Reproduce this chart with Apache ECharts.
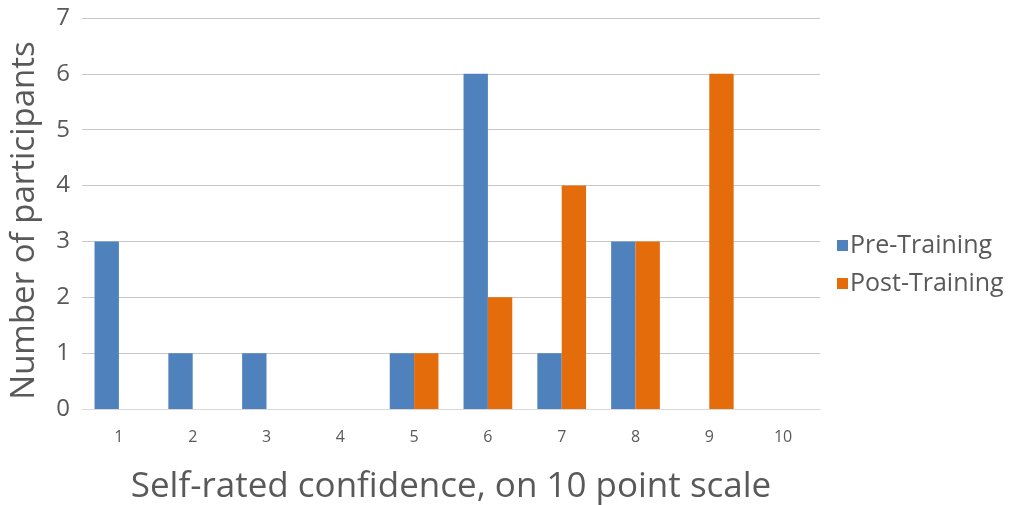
<!DOCTYPE html>
<html><head><meta charset="utf-8">
<script src="https://cdn.jsdelivr.net/npm/echarts@6/dist/echarts.min.js"></script>
<style>html,body{margin:0;padding:0;background:#fff}#c{width:1013px;height:505px}</style>
</head><body><div id="c"></div>
<script>
const categories = ['1','2','3','4','5','6','7','8','9','10'];
const preTraining = [3,1,1,0,1,6,1,3,0,0];
const postTraining = [0,0,0,0,1,2,4,3,6,0];
const seriesNames = ['Pre-Training','Post-Training'];
const FONT = 'Open Sans';
const chart = echarts.init(document.getElementById('c'));
chart.setOption({
  animation:false,
  textStyle:{fontFamily:FONT},
  grid:{left:82,right:193,top:18,bottom:96,containLabel:false,outerBoundsMode:'none'},
  legend:{
    orient:'vertical', left:832, top:228, itemWidth:11, itemHeight:11, itemGap:13,
    icon:'rect',
    textStyle:{fontFamily:FONT,fontSize:25,color:'#595959',padding:[0,0,0,-3]},
    data:seriesNames
  },
  xAxis:{
    type:'category', data:categories,
    name:'Self-rated confidence, on 10 point scale', nameLocation:'middle', nameGap:61,
    nameTextStyle:{fontFamily:FONT,fontSize:35,color:'#595959'},
    axisLine:{show:true,lineStyle:{color:'#d9d9d9',width:1}},
    axisTick:{show:false},
    axisLabel:{fontSize:16,color:'#595959',margin:20,fontFamily:FONT}
  },
  yAxis:{
    type:'value', min:0, max:7, interval:1,
    name:'Number of participants', nameLocation:'middle', nameGap:41,
    nameTextStyle:{fontFamily:FONT,fontSize:33,color:'#595959',padding:[0,14,0,0]},
    axisLine:{show:false}, axisTick:{show:false},
    axisLabel:{fontSize:24,color:'#595959',margin:12,fontFamily:FONT},
    splitLine:{lineStyle:{color:'#c8c8c8',width:1}}
  },
  series:[
    {name:seriesNames[0],type:'bar',data:preTraining,barWidth:'33%',barGap:'0%',
     itemStyle:{color:'#4F81BD'}},
    {name:seriesNames[1],type:'bar',data:postTraining,barWidth:'33%',barGap:'0%',
     itemStyle:{color:'#E46C0A'}}
  ]
});
</script></body></html>
